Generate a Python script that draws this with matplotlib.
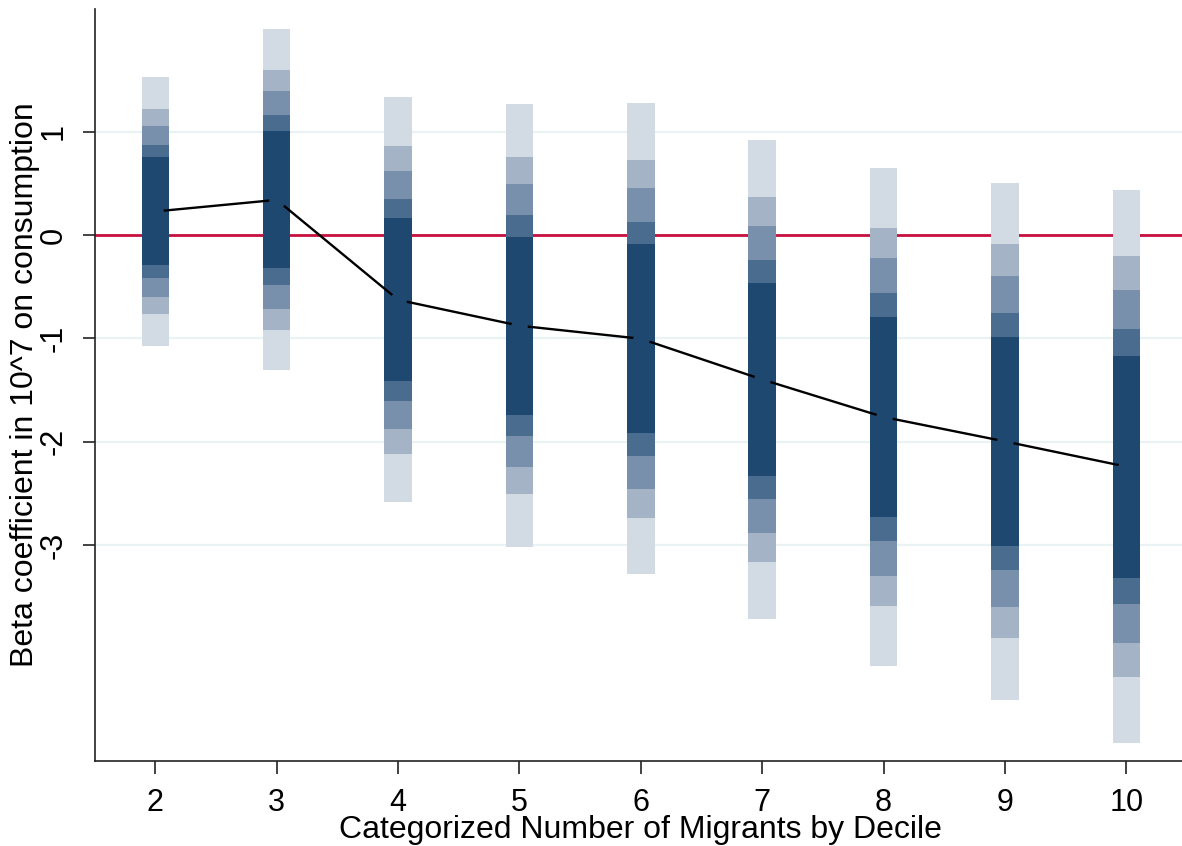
import numpy as np
import matplotlib
matplotlib.use("Agg")
import matplotlib.pyplot as plt
from statistics import NormalDist

plt.rcParams['font.family'] = ['Liberation Sans', 'DejaVu Sans']

# decile categories and regression results (coef, standard error)
deciles = [2, 3, 4, 5, 6, 7, 8, 9, 10]
coef = [0.228, 0.340, -0.627, -0.877, -1.003, -1.397, -1.760, -1.996, -2.240]
se = [0.504, 0.640, 0.760, 0.832, 0.884, 0.901, 0.935, 0.972, 1.037]

# confidence levels, widest first so narrower bands sit on top
levels = [99, 95, 90, 80, 70]
level_colors = ['#d2dae4', '#a4b4c6', '#7890ab', '#4a6c8f', '#1e4870']

yticks = [1, 0, -1, -2, -3]
xlabel = 'Categorized Number of Migrants by Decile'
ylabel = 'Beta coefficient in 10^7 on consumption'

fig = plt.figure(figsize=(11.82, 8.46), dpi=100)
ax = fig.add_axes([0.0801, 0.1001, 0.9241, 0.8889])

x = np.array(deciles, dtype=float)
b = np.array(coef)
s = np.array(se)
bar_w = 0.226

for lev, col in zip(levels, level_colors):
    z = NormalDist().inv_cdf(0.5 + lev / 200.0)
    lo = b - z * s
    hi = b + z * s
    ax.bar(x, hi - lo, bottom=lo, width=bar_w, color=col, linewidth=0, zorder=3)

# zero reference line sits under the bands
ax.axhline(0, color='#c8103e', linewidth=2.0, zorder=2)

for t in yticks:
    ax.axhline(t, color='#eaf2f3', linewidth=1.6, zorder=1)

ax.plot(x, b, color='black', linewidth=1.7, zorder=4)
ax.plot(x, b, linestyle='none', marker='o', markersize=12,
        markerfacecolor=level_colors[-1], markeredgewidth=0, zorder=5)

ax.set_xlim(1.5, 10.5)
ax.set_ylim(-5.09, 2.183)
ax.set_xticks(deciles)
ax.set_xticklabels([str(d) for d in deciles])
ax.set_yticks(yticks)
ax.set_yticklabels([str(t) for t in yticks], rotation=90, va='center')

for side in ['top', 'right']:
    ax.spines[side].set_visible(False)
for side in ['left', 'bottom']:
    ax.spines[side].set_color('#222222')
    ax.spines[side].set_linewidth(1.2)

ax.tick_params(axis='x', length=9, width=1.2, color='#222222', pad=10, labelsize=22)
ax.tick_params(axis='y', length=9, width=1.2, color='#222222', pad=10, labelsize=22)

fig.text(0.542, 0.0095, xlabel, ha='center', va='baseline', fontsize=23)
fig.text(0.0085, 0.545, ylabel, rotation=90, ha='left', va='center', fontsize=23)

fig.savefig('out.png', dpi=100)
